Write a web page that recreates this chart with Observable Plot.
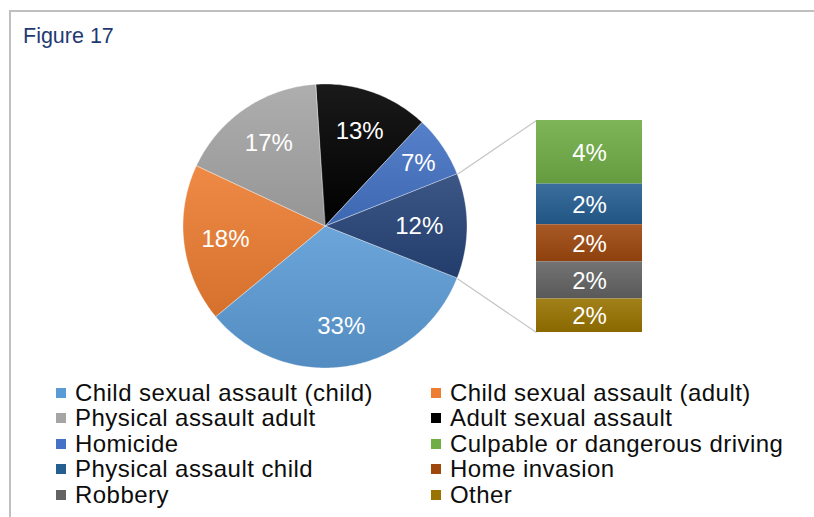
<!DOCTYPE html>
<html>
<head>
<meta charset="utf-8">
<script src="https://cdn.jsdelivr.net/npm/d3@7"></script>
<script src="https://cdn.jsdelivr.net/npm/@observablehq/plot@0.6"></script>
<style>
  body { margin: 0; background: #fff; font-family: Arial, "Liberation Sans", sans-serif; }
  #wrap { position: relative; width: 814px; height: 517px; overflow: hidden; background: #fff; }
  #frame { position: absolute; left: 9px; top: 10px; right: -10px; bottom: -10px;
           border-top: 2px solid #bfbfbf; border-left: 2px solid #bfbfbf; }
  #title { position: absolute; left: 23px; top: 24px; font-size: 21.5px; color: #1f3a73; white-space: nowrap; }
  #chart { position: absolute; left: 0; top: 60px; }
  #legend { position: absolute; left: 56px; top: 380px; display: grid;
            grid-template-columns: 375px 360px; grid-auto-rows: 25.5px; }
  .item { display: flex; align-items: center; font-size: 24px; letter-spacing: 0.45px; color: #0d0d0d; white-space: nowrap; }
  .sw { width: 10px; height: 10px; margin-right: 9px; flex: none; }
</style>
</head>
<body>
<div id="wrap">
  <div id="frame"></div>
  <div id="title">Figure 17</div>
  <div id="chart"></div>
  <div id="legend"></div>
</div>
<script>
// ---- data ----
const pieCategories = ["Child sexual assault (child)", "Child sexual assault (adult)", "Physical assault adult", "Adult sexual assault", "Homicide"];
const pieValues = [33, 18, 17, 13, 7];
const pieColors = ["#5b9bd5", "#ed7d31", "#a5a5a5", "#000000", "#4472c4"];
const barCategories = ["Culpable or dangerous driving", "Physical assault child", "Home invasion", "Robbery", "Other"];
const barValues = [3.6, 2.3, 2.1, 2.1, 1.9];
const barColors = ["#70ad47", "#255e91", "#9e480e", "#636363", "#997300"];
const aggregateColor = "#264478";
const legendOrder = [
  "Child sexual assault (child)", "Child sexual assault (adult)",
  "Physical assault adult", "Adult sexual assault",
  "Homicide", "Culpable or dangerous driving",
  "Physical assault child", "Home invasion",
  "Robbery", "Other"
];

// ---- layout ----
const W = 814, H = 315;
const cx = 325, cy = 166, rpx = 142;           // pie centre & radius (px)
const barLeftPx = 536, barRightPx = 642, barHeightPx = 212;

const aggValue = d3.sum(barValues);
const slices = [{key: "Other (combined)", value: aggValue, color: aggregateColor}]
  .concat(pieCategories.map((c, i) => ({key: c, value: pieValues[i], color: pieColors[i]})));
const total = d3.sum(slices, d => d.value);
const a0 = Math.PI / 2 - Math.PI * aggValue / total;
const arcs = d3.pie().sort(null).value(d => d.value).startAngle(a0).endAngle(a0 + 2 * Math.PI)(slices);

function wedge(a) {
  const n = Math.max(2, Math.ceil((a.endAngle - a.startAngle) / (Math.PI / 180)) + 1);
  return d3.range(n).map(i => {
    const t = a.startAngle + (a.endAngle - a.startAngle) * i / (n - 1);
    return {x1: Math.sin(t), y1: Math.cos(t), x2: 0, y2: 0};
  });
}
// label distance from centre (fraction of radius): small slices pushed outward
const labelR = a => a.index === 0 ? 0.66 : (a.data.value < 10 ? 0.79 : 0.71);
const mid = a => (a.startAngle + a.endAngle) / 2;

// bar segments (stacked top to bottom, centred on pie centre)
const k = (barHeightPx / rpx) / aggValue;
const barTop = k * aggValue / 2;
const bx1 = (barLeftPx - cx) / rpx, bx2 = (barRightPx - cx) / rpx;
const cum = d3.cumsum(barValues);
const barRows = barCategories.map((c, i) => ({
  key: c, value: barValues[i], color: barColors[i],
  y2: barTop - (cum[i] - barValues[i]) * k,
  y1: barTop - cum[i] * k
}));

const links = [
  {x1: Math.sin(arcs[0].startAngle), y1: Math.cos(arcs[0].startAngle), x2: bx1, y2: barTop},
  {x1: Math.sin(arcs[0].endAngle), y1: Math.cos(arcs[0].endAngle), x2: bx1, y2: -barTop}
];

const chart = Plot.plot({
  width: W, height: H,
  margin: 0,
  x: {domain: [-cx / rpx, (W - cx) / rpx], axis: null},
  y: {domain: [(cy - H) / rpx, cy / rpx], axis: null},
  style: {background: "transparent", overflow: "visible", fontFamily: "Arial, 'Liberation Sans', sans-serif"},
  marks: [
    Plot.link(links, {x1: "x1", y1: "y1", x2: "x2", y2: "y2", stroke: "#c4c4c4", strokeWidth: 1.2}),
    ...arcs.map((a, i) => Plot.area(wedge(a), {
      x1: "x1", y1: "y1", x2: "x2", y2: "y2",
      fill: `url(#pg${i})`, stroke: "#ffffff", strokeWidth: 0.6, strokeOpacity: 0.6
    })),
    ...barRows.map((b, i) => Plot.rect([b], {
      x1: bx1, x2: bx2, y1: "y1", y2: "y2", fill: `url(#bg${i})`
    })),
    Plot.text(arcs, {
      x: a => labelR(a) * Math.sin(mid(a)), y: a => labelR(a) * Math.cos(mid(a)),
      text: a => Math.round(a.data.value) + "%", fill: "white", fontSize: 24
    }),
    Plot.text(barRows, {
      x: (bx1 + bx2) / 2, y: b => (b.y1 + b.y2) / 2,
      text: b => Math.round(b.value) + "%", fill: "white", fontSize: 24, dy: 1
    })
  ]
});

// gradients
const svg = d3.select(chart);
const defs = svg.insert("defs", ":first-child");
function grad(id, c) {
  const g = defs.append("linearGradient").attr("id", id)
    .attr("x1", 0).attr("y1", 0).attr("x2", 0).attr("y2", 1);
  g.append("stop").attr("offset", "0%").attr("stop-color", d3.interpolateRgb(c, "#ffffff")(0.1));
  g.append("stop").attr("offset", "100%").attr("stop-color", d3.interpolateRgb(c, "#000000")(0.1));
}
arcs.forEach((a, i) => grad(`pg${i}`, a.data.color));
barRows.forEach((b, i) => grad(`bg${i}`, b.color));

document.getElementById("chart").appendChild(chart);

// legend
const colorOf = new Map();
pieCategories.forEach((c, i) => colorOf.set(c, pieColors[i]));
barCategories.forEach((c, i) => colorOf.set(c, barColors[i]));
const legend = d3.select("#legend");
legendOrder.forEach(c => {
  const it = legend.append("div").attr("class", "item");
  it.append("span").attr("class", "sw").style("background", colorOf.get(c));
  it.append("span").text(c);
});
</script>
</body>
</html>
